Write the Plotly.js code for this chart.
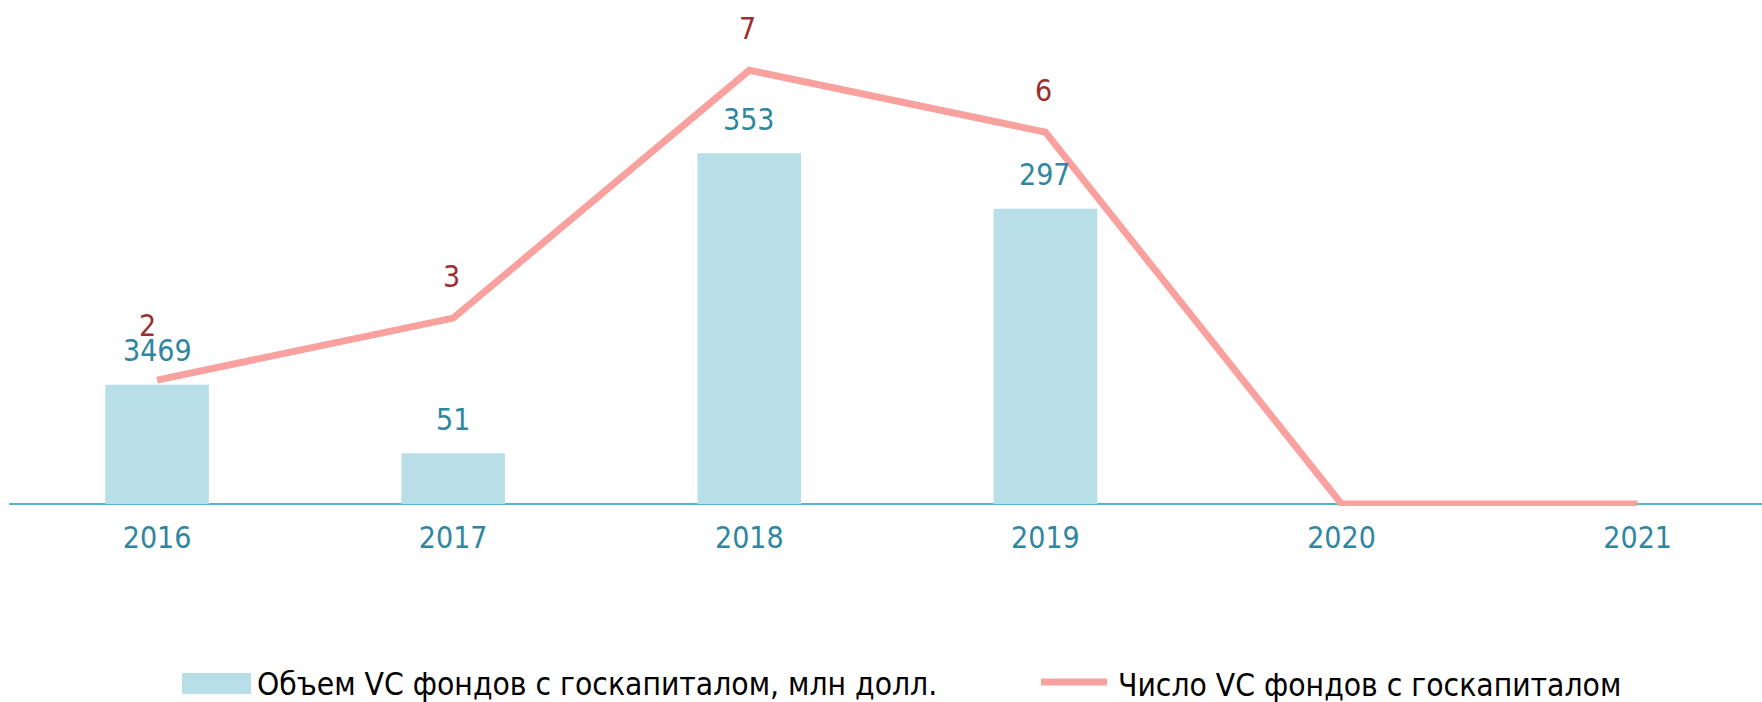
<!DOCTYPE html>
<html>
<head>
<meta charset="utf-8">
<script src="https://cdn.plot.ly/plotly-3.0.1.min.js"></script>
<style>html,body{margin:0;padding:0;background:#fff;}#chart{width:1762px;height:702px;}</style>
</head>
<body>
<div id="chart"></div>
<script>
const years = ["2016", "2017", "2018", "2019", "2020", "2021"];
const volumeValues = [120, 51, 353, 297, 0, 0];
const volumeLabels = ["3469", "51", "353", "297", "", ""];
const fundCounts = [2, 3, 7, 6, 0, 0];
const countLabels = ["2", "3", "7", "6", "", ""];
const legendNames = ["Объем VC фондов с госкапиталом, млн долл.", "Число VC фондов с госкапиталом"];

const FONT = "'DejaVu Sans Condensed', 'DejaVu Sans', sans-serif";
const W = 1762, H = 702, ML = 9, MR = 0, MT = 20, MB = 196;
const PW = W - ML - MR, PH = H - MT - MB;
const px2x = p => (p - ML) / PW;
const py2y = p => (H - MB - p) / PH;
const xs = years.map((_, i) => i);

const traces = [
  {
    type: "bar", x: xs, y: volumeValues, name: legendNames[0],
    marker: {color: "#b8dee8"}, width: 0.35, hoverinfo: "skip", showlegend: false
  },
  {
    type: "scatter", mode: "lines", x: xs, y: fundCounts, yaxis: "y2", name: legendNames[1],
    line: {color: "#f9a19f", width: 7}, hoverinfo: "skip", showlegend: false
  }
];

const annotations = [];
volumeLabels.forEach((t, i) => {
  if (!t) return;
  annotations.push({x: i, y: volumeValues[i], xref: "x", yref: "y", text: t, showarrow: false,
    yanchor: "middle", yshift: 34, font: {family: FONT, size: 30, color: "#2e86a0"}});
});
const countShift = {0: [-10, 55]};
countLabels.forEach((t, i) => {
  if (!t) return;
  const s = countShift[i] || [-2, 42];
  annotations.push({x: i, y: fundCounts[i], xref: "x", yref: "y2", text: t, showarrow: false,
    yanchor: "middle", xshift: s[0], yshift: s[1], font: {family: FONT, size: 30, color: "#9b2f2f"}});
});
// custom legend
annotations.push({x: px2x(255), y: py2y(684), xref: "paper", yref: "paper", xanchor: "left", yanchor: "middle",
  text: legendNames[0], showarrow: false, font: {family: FONT, size: 31.5, color: "#000"}});
annotations.push({x: px2x(1116), y: py2y(685), xref: "paper", yref: "paper", xanchor: "left", yanchor: "middle",
  text: legendNames[1], showarrow: false, font: {family: FONT, size: 31.5, color: "#000"}});

const shapes = [
  {type: "rect", xref: "paper", yref: "paper", x0: px2x(182), x1: px2x(251), y0: py2y(694), y1: py2y(673),
    fillcolor: "#b8dee8", line: {width: 0}},
  {type: "line", xref: "paper", yref: "paper", x0: px2x(1041), x1: px2x(1107), y0: py2y(682), y1: py2y(682),
    line: {color: "#f9a19f", width: 7}}
];

const layout = {
  width: W, height: H,
  margin: {l: ML, r: MR, t: MT, b: MB},
  paper_bgcolor: "#fff", plot_bgcolor: "#fff",
  showlegend: false,
  xaxis: {
    range: [-0.5, 5.42], tickmode: "array", tickvals: xs, ticktext: years,
    showgrid: false, zeroline: false, showline: false, ticks: "", ticklabelstandoff: 11,
    tickfont: {family: FONT, size: 30, color: "#2e86a0"}, fixedrange: true
  },
  yaxis: {
    range: [-2, 487], showgrid: false, showticklabels: false, ticks: "",
    zeroline: true, zerolinecolor: "#5ab4c8", zerolinewidth: 2, fixedrange: true
  },
  yaxis2: {
    range: [-0.032, 7.81], overlaying: "y", side: "right", showgrid: false,
    showticklabels: false, ticks: "", zeroline: false, fixedrange: true
  },
  annotations: annotations,
  shapes: shapes
};

Plotly.newPlot("chart", traces, layout, {displayModeBar: false, staticPlot: true});
</script>
</body>
</html>
